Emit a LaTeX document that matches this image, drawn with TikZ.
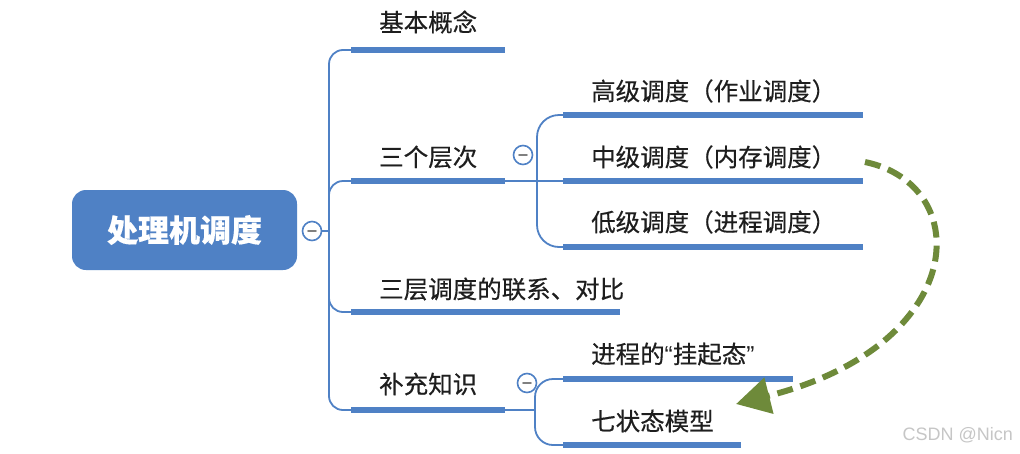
\documentclass[tikz,border=0pt]{standalone}
\usepackage{fontspec}
\setmainfont[FakeBold=0.4]{Noto Sans CJK SC}
\newfontfamily\latinfont{Liberation Sans}
\usetikzlibrary{arrows.meta}
\definecolor{mapblue}{HTML}{4F81C5}
\definecolor{movegreen}{HTML}{6E8A3A}
\definecolor{mapink}{HTML}{1E1E1E}

\begin{document}
\begin{tikzpicture}[
    x=1pt,
    y=-1pt,
    font=\fontsize{24.5}{28}\selectfont,
    label/.style={anchor=west, text=mapink, inner sep=0pt},
    bar/.style={mapblue, line width=5.5pt},
    link/.style={mapblue, line width=1.8pt, rounded corners=14pt},
    fold/.style={circle, draw=mapblue, line width=1.6pt, fill=white,
        minimum size=19pt, inner sep=0pt},
    minus/.style={gray, line width=1.8pt, line cap=round}
]
\fill[white] (0,0) rectangle (1020,453);
\useasboundingbox (0,0) rectangle (1020,453);

\node[fill=mapblue, rounded corners=14pt, minimum width=225pt,
    minimum height=80pt, text=white, font=\fontsize{31}{35}\selectfont\bfseries]
    (root) at (184.5,230) {处理机调度};
\node[fold] (fold0) at (312,231) {};
\draw[minus] ([xshift=-4pt]fold0.center) -- ([xshift=4pt]fold0.center);

\coordinate (trunk) at (329,231);
\coordinate (basic-a) at (351,50);   \coordinate (basic-b) at (505,50);
\coordinate (levels-a) at (351,181); \coordinate (levels-b) at (505,181);
\coordinate (rel-a) at (351,312);    \coordinate (rel-b) at (620,312);
\coordinate (extra-a) at (351,410);  \coordinate (extra-b) at (505,410);

\draw[link] (fold0.east) -- (trunk);
\draw[link] (trunk) |- (basic-a);
\draw[link] (trunk) |- (levels-a);
\draw[link] (trunk) |- (rel-a);
\draw[link] (trunk) |- (extra-a);

\draw[bar] (basic-a) -- (basic-b);
\draw[bar] (levels-a) -- (levels-b);
\draw[bar] (rel-a) -- (rel-b);
\draw[bar] (extra-a) -- (extra-b);

\node[label] (basic) at (379,22) {基本概念};
\node[label] (levels) at (379,157) {三个层次};
\node[label] (rel) at (379,289) {三层调度的联系、对比};
\node[label] (extra) at (379,384) {补充知识};

% three levels
\coordinate (split1) at (537,181);
\coordinate (high-a) at (563,115); \coordinate (high-b) at (863,115);
\coordinate (mid-a) at (563,181);  \coordinate (mid-b) at (863,181);
\coordinate (low-a) at (563,247);  \coordinate (low-b) at (863,247);

\draw[link] (levels-b) -- (split1);
\draw[link, rounded corners=22pt] (split1) |- (high-a);
\draw[link] (split1) -- (mid-a);
\draw[link, rounded corners=22pt] (split1) |- (low-a);
\draw[bar] (high-a) -- (high-b);
\draw[bar] (mid-a) -- (mid-b);
\draw[bar] (low-a) -- (low-b);
\node[fold] (fold1) at (523,155) {};
\draw[minus] ([xshift=-4pt]fold1.center) -- ([xshift=4pt]fold1.center);

\node[label] (high) at (591,91) {高级调度（作业调度）};
\node[label] (mid) at (591,157) {中级调度（内存调度）};
\node[label] (low) at (591,222) {低级调度（进程调度）};

% extra knowledge
\coordinate (split2) at (535,410);
\coordinate (susp-a) at (563,379);  \coordinate (susp-b) at (793,379);
\coordinate (seven-a) at (563,445); \coordinate (seven-b) at (741,445);

\draw[link] (extra-b) -- (split2);
\draw[link, rounded corners=18pt] (split2) |- (susp-a);
\draw[link, rounded corners=18pt] (split2) |- (seven-a);
\draw[bar] (susp-a) -- (susp-b);
\draw[bar] (seven-a) -- (seven-b);
\node[fold] (fold2) at (527,383) {};
\draw[minus] ([xshift=-4pt]fold2.center) -- ([xshift=4pt]fold2.center);

\node[label] (susp) at (591,354) {进程的{\latinfont “}挂起态{\latinfont ”}};
\node[label] (seven) at (591,421) {七状态模型};

% move arrow
\coordinate (move-a) at (865,162);
\coordinate (move-b) at (736,404);
\draw[movegreen, line width=6pt, dash pattern=on 16pt off 8pt,
    -{Triangle[length=34pt,width=36pt]}]
    (move-a) .. controls (975,185) and (970,345) .. (move-b);

\node[anchor=east, text=gray!45, font=\latinfont\fontsize{18}{20}\selectfont, inner sep=0pt]
    (mark) at (1013,435) {CSDN @Nicn};
\end{tikzpicture}
\end{document}
